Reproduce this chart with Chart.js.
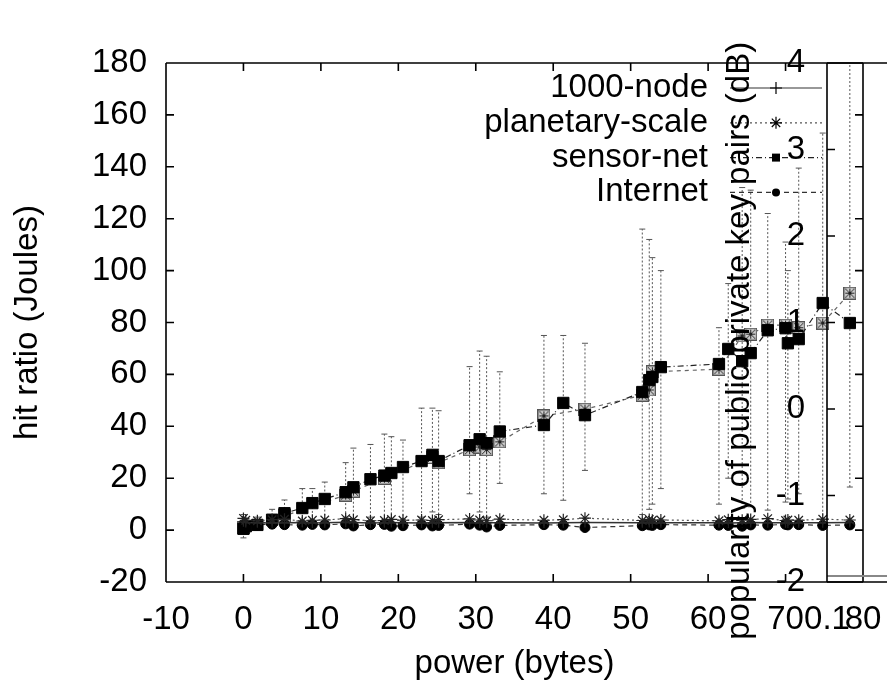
<!DOCTYPE html>
<html><head><meta charset="utf-8">
<script src="https://cdn.jsdelivr.net/npm/chart.js@4/dist/chart.umd.min.js"></script>
<style>
html,body{margin:0;padding:0;background:#fff;overflow:hidden;}
#wrap{position:relative;width:887px;height:690px;overflow:hidden;background:#fff;}
canvas{position:absolute;left:0;top:0;}
</style></head><body>
<div id="wrap"><canvas id="main" width="887" height="690"></canvas><canvas id="over" width="960" height="690"></canvas></div>
<script>
// ---------- data ----------
const xTickValues  = [-10, 0, 10, 20, 30, 40, 50, 60, 70, 80];
const yTickValues  = [-20, 0, 20, 40, 60, 80, 100, 120, 140, 160, 180];
const y2TickValues = [-2, -1, 0, 1, 2, 3, 4];
const x2TickValues = [0.1];

const powerX    = [0, 0.3, 1.8, 3.7, 5.3, 7.6, 8.9, 10.5, 13.2, 14.2, 16.4, 18.2, 19.1, 20.6, 23, 24.4, 25.2, 29.2, 30.5, 31.4, 33.1, 38.8, 41.3, 44.1, 51.5, 52.4, 52.8, 53.9, 61.4, 62.6, 64.4, 65.5, 67.7, 70, 70.3, 71.7, 74.8, 78.3];
const sensorY   = [0.5, 1.5, 2.0, 4.0, 6.5, 8.5, 10.4, 12, 14.6, 16.5, 19.6, 21, 22, 24.3, 26.6, 29, 26.6, 32.7, 35, 33.5, 38, 40.5, 49, 44.3, 53.2, 57.8, 59, 62.8, 64, 69.8, 65.1, 68.2, 77, 77.8, 72, 73.6, 87.5, 79.8];
const sensorLow = [-3, -1, 0, 1, 2, 3, 2, 1, 5, 4, 5, 4, 3, 4, 5, 7, 6, 14, 7, 5, 18, 14, 11.5, 23, 6, 8, 10, 16, 10, 20, 8.5, 9, 7.7, 10.8, 12, 14, 4, 16.6];
const sensorHigh= [6, 4, 5, 8, 11.6, 16, 16, 18.5, 26, 31.6, 33, 37, 36, 34.7, 47, 47, 46, 63, 69, 67, 61, 75, 75, 72, 116, 112, 105, 100, 78, 95, 132, 131, 122, 111, 100, 139.5, 153, 185];
const node1000Y = [3.2, 2.9, 2.8, 2.7, 2.8, 2.9, 2.7, 2.8, 3.0, 2.9, 2.7, 2.8, 2.9, 2.8, 2.7, 2.8, 2.8, 2.9, 2.7, 2.8, 2.8, 2.7, 2.8, 2.9, 2.8, 2.9, 2.7, 2.8, 2.8, 2.7, 2.8, 2.9, 2.8, 2.8, 2.7, 2.8, 2.8, 2.9];
const planetaryY= [4.5, 3.8, 3.6, 4.0, 4.2, 3.5, 3.8, 3.9, 4.4, 4.0, 3.6, 3.7, 4.1, 3.8, 3.9, 3.7, 4.0, 4.3, 3.9, 3.6, 4.2, 3.8, 4.0, 4.6, 3.7, 4.1, 3.8, 3.9, 3.6, 4.0, 3.8, 4.1, 4.4, 3.7, 3.9, 3.8, 4.2, 3.9];
const internetY = [1.0, 1.8, 2.0, 2.3, 2.1, 1.9, 2.2, 2.0, 2.4, 1.6, 2.1, 2.2, 1.5, 1.7, 2.0, 1.6, 1.8, 2.3, 1.9, 1.2, 1.8, 2.1, 1.9, 1.0, 1.7, 2.0, 1.8, 2.1, 1.9, 1.8, 1.5, 2.0, 1.9, 2.2, 2.0, 2.1, 1.8, 2.0];
const boxedX    = [0, 5.3, 13.2, 14.2, 18.2, 24.4, 25.2, 29.2, 30.5, 31.4, 33.1, 38.8, 44.1, 51.5, 52.4, 52.8, 61.4, 64.4, 65.5, 67.7, 70, 71.7, 74.8, 78.3];
const boxedY    = [1, 5.5, 13.5, 15, 20, 28, 26, 31, 32, 31, 34, 44, 46.6, 52, 54, 61, 62, 74.8, 75.5, 79, 79, 78, 79.8, 91.3];
const overlayX  = [0.1, 1];
const overlayY  = [-1.93, -1.93];

// ---------- helpers ----------
const FAM = '"Liberation Sans", Arial, Helvetica, sans-serif';
const FS = 33;
const FONT = {family: FAM, size: FS, lineHeight: 1.2};
const pts = (xs, ys) => xs.map((x, i) => ({x, y: ys[i]}));
const errData = [];
powerX.forEach((x, i) => { errData.push({x, y: sensorLow[i]}, {x, y: sensorHigh[i]}, {x, y: null}); });

// boxed-x marker image
const boxImg = document.createElement('canvas');
boxImg.width = 13; boxImg.height = 13;
(function(){
  const c = boxImg.getContext('2d');
  c.fillStyle = '#d0d0d0'; c.fillRect(0,0,13,13);
  c.strokeStyle = '#555'; c.lineWidth = 1.2; c.strokeRect(0.6,0.6,11.8,11.8);
  c.strokeStyle = '#222'; c.lineWidth = 1;
  c.beginPath(); c.moveTo(2,2); c.lineTo(11,11); c.moveTo(11,2); c.lineTo(2,11);
  c.moveTo(6.5,2); c.lineTo(6.5,11); c.moveTo(2,6.5); c.lineTo(11,6.5); c.stroke();
})();

const setTicks = arr => (s) => { s.ticks = arr.map(v => ({value: v})); };
const fitX = (s) => { s.height = 108; s.paddingLeft = 0; s.paddingRight = 0; };

const framePlugin = {
  id: 'gnuFrame',
  afterDatasetsDraw(chart, args, o) {
    const {ctx, chartArea: a} = chart;
    const xs = chart.scales.x, ys = chart.scales.y;
    ctx.save();
    ctx.strokeStyle = '#000'; ctx.lineWidth = 1.6; ctx.setLineDash([]);
    ctx.beginPath();
    if (o.top)    { ctx.moveTo(a.left, a.top); ctx.lineTo(a.right, a.top); }
    if (o.bottom) { ctx.moveTo(a.left, a.bottom); ctx.lineTo(a.right, a.bottom); }
    if (o.left)   { ctx.moveTo(a.left, a.top); ctx.lineTo(a.left, a.bottom); }
    if (o.right)  { ctx.moveTo(a.right, a.top); ctx.lineTo(a.right, a.bottom); }
    const L = o.tick || 8;
    if (o.xTicks) xs.ticks.forEach(t => {
      const p = xs.getPixelForValue(t.value);
      ctx.moveTo(p, a.bottom); ctx.lineTo(p, a.bottom - L);
      ctx.moveTo(p, a.top); ctx.lineTo(p, a.top + L);
    });
    if (o.yLeft || o.yRight) ys.ticks.forEach(t => {
      const p = ys.getPixelForValue(t.value);
      if (o.yLeft)  { ctx.moveTo(a.left, p); ctx.lineTo(a.left + L, p); }
      if (o.yRight) { ctx.moveTo(a.right, p); ctx.lineTo(a.right - L, p); }
    });
    ctx.stroke(); ctx.restore();
  }
};

function drawMarker(ctx, style, x, y, r, fill, stroke) {
  ctx.save(); ctx.setLineDash([]); ctx.lineWidth = 1.2;
  ctx.fillStyle = fill; ctx.strokeStyle = stroke;
  ctx.beginPath();
  if (style === 'cross') { ctx.moveTo(x-r,y); ctx.lineTo(x+r,y); ctx.moveTo(x,y-r); ctx.lineTo(x,y+r); ctx.stroke(); }
  else if (style === 'star') {
    ctx.moveTo(x-r,y); ctx.lineTo(x+r,y); ctx.moveTo(x,y-r); ctx.lineTo(x,y+r);
    const d = r*0.7; ctx.moveTo(x-d,y-d); ctx.lineTo(x+d,y+d); ctx.moveTo(x+d,y-d); ctx.lineTo(x-d,y+d); ctx.stroke();
  }
  else if (style === 'rect') { ctx.rect(x-r,y-r,2*r,2*r); ctx.fill(); }
  else { ctx.arc(x,y,r,0,Math.PI*2); ctx.fill(); }
  ctx.restore();
}

const keyPlugin = {
  id: 'gnuKey',
  afterDraw(chart, args, o) {
    const ctx = chart.ctx;
    ctx.save();
    ctx.font = FS + 'px ' + FAM;
    ctx.textAlign = 'right'; ctx.textBaseline = 'middle'; ctx.fillStyle = '#000';
    o.items.forEach((idx, row) => {
      const ds = chart.data.datasets[idx];
      const y = o.y0 + row * o.dy;
      ctx.fillText(ds.label, o.textRight, y);
      ctx.strokeStyle = ds.borderColor; ctx.lineWidth = 1.2;
      ctx.setLineDash(ds.borderDash || []);
      ctx.beginPath(); ctx.moveTo(o.x1, y); ctx.lineTo(o.x2, y); ctx.stroke();
      ctx.setLineDash([]);
      drawMarker(ctx, ds.pointStyle, (o.x1 + o.x2) / 2, y, ds.keyR, '#000', '#000');
    });
    ctx.restore();
  }
};

// ---------- main chart ----------
new Chart(document.getElementById('main'), {
  type: 'scatter',
  data: {
    datasets: [
      {label: '1000-node', data: pts(powerX, node1000Y), showLine: true, borderColor: '#333', borderWidth: 1.5,
       pointStyle: 'cross', pointRadius: 5, pointBorderColor: '#222', pointBorderWidth: 1.2, keyR: 6},
      {label: 'planetary-scale', data: pts(powerX, planetaryY), showLine: true, borderColor: '#555', borderWidth: 1.2, borderDash: [2, 3],
       pointStyle: 'star', pointRadius: 6, pointBorderColor: '#222', pointBorderWidth: 1.2, keyR: 6},
      {label: 'sensor-net', data: pts(powerX, sensorY), showLine: true, borderColor: '#222', borderWidth: 1.2, borderDash: [6, 3, 1, 3],
       pointStyle: 'rect', pointRadius: 8, pointBackgroundColor: '#000', pointBorderColor: '#000', pointBorderWidth: 1, keyR: 4},
      {label: 'Internet', data: pts(powerX, internetY), showLine: true, borderColor: '#333', borderWidth: 1.2, borderDash: [5, 4],
       pointStyle: 'circle', pointRadius: 5, pointBackgroundColor: '#000', pointBorderColor: '#000', pointBorderWidth: 1, keyR: 4},
      {label: 'boxed', data: pts(boxedX, boxedY), showLine: true, borderColor: '#666', borderWidth: 1.2, borderDash: [4, 4],
       pointStyle: boxImg, pointRadius: 6},
      {label: 'error', data: errData, showLine: true, spanGaps: false, borderColor: '#555', borderWidth: 1, borderDash: [2, 2],
       pointStyle: 'line', pointRadius: 3, pointBorderColor: '#555', pointBorderWidth: 1}
    ]
  },
  options: {
    responsive: false, animation: false, devicePixelRatio: 1,
    layout: {autoPadding: false, padding: {left: 0, right: 24, top: 63, bottom: 0}},
    plugins: {
      legend: {display: false}, tooltip: {enabled: false},
      gnuFrame: {top: true, bottom: true, left: true, right: true, xTicks: true, yLeft: true, yRight: true, tick: 8},
      gnuKey: {items: [0, 1, 2, 3], textRight: 708, x1: 730, x2: 822, y0: 88, dy: 34.8}
    },
    scales: {
      x: {type: 'linear', position: 'bottom', min: -10, max: 80,
          afterBuildTicks: setTicks(xTickValues),
          ticks: {padding: 18, font: FONT, color: '#000', maxRotation: 0, autoSkip: false},
          grid: {display: false, drawTicks: false, tickLength: 0}, border: {display: false},
          title: {display: true, text: 'power (bytes)', font: FONT, color: '#000', padding: {top: 0, bottom: 6}},
          afterFit: fitX},
      y: {type: 'linear', position: 'left', min: -20, max: 180,
          afterBuildTicks: setTicks(yTickValues),
          ticks: {padding: 19, font: FONT, color: '#000', autoSkip: false},
          grid: {display: false, drawTicks: false, tickLength: 0}, border: {display: false},
          title: {display: true, text: 'hit ratio (Joules)', font: FONT, color: '#000', padding: {top: 8, bottom: 0}},
          afterFit(s) { s.width = 166; }}
    }
  },
  plugins: [framePlugin, keyPlugin]
});

// ---------- overlaid second plot ----------
new Chart(document.getElementById('over'), {
  type: 'scatter',
  data: {datasets: [{label: 'floor', data: pts(overlayX, overlayY), showLine: true, borderColor: '#888', borderWidth: 2, pointRadius: 0}]},
  options: {
    responsive: false, animation: false, devicePixelRatio: 1,
    layout: {autoPadding: false, padding: {left: 720, right: 0, top: 63, bottom: 0}},
    plugins: {legend: {display: false}, tooltip: {enabled: false},
      gnuFrame: {top: true, bottom: true, left: true, right: false, xTicks: false, yLeft: true, tick: 8}},
    scales: {
      x: {type: 'linear', position: 'bottom', min: 0.1, max: 1,
          afterBuildTicks: setTicks(x2TickValues),
          ticks: {padding: 18, font: FONT, color: '#000', maxRotation: 0, autoSkip: false, callback: v => String(v)},
          grid: {display: false, drawTicks: false, tickLength: 0}, border: {display: false},
          afterFit: fitX},
      y: {type: 'linear', position: 'left', min: -2, max: 4,
          afterBuildTicks: setTicks(y2TickValues),
          ticks: {padding: 22, font: FONT, color: '#000', autoSkip: false},
          grid: {display: false, drawTicks: false, tickLength: 0}, border: {display: false},
          title: {display: true, text: 'popularity of public-private key pairs (dB)    ', font: FONT, color: '#000', padding: {top: 0, bottom: 0}},
          afterFit(s) { s.width = 107; }}
    }
  },
  plugins: [framePlugin]
});
</script>
</body></html>
